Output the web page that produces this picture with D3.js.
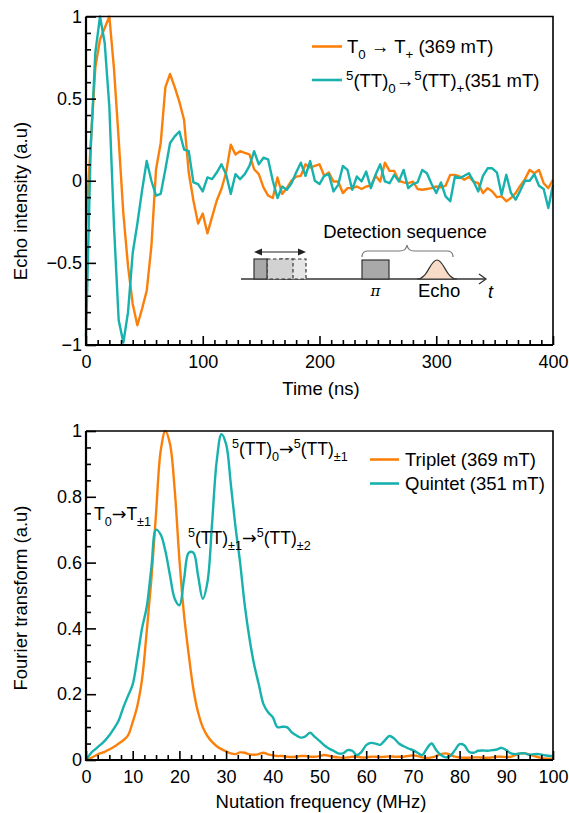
<!DOCTYPE html>
<html>
<head>
<meta charset="utf-8">
<script src="https://cdn.jsdelivr.net/npm/d3@7"></script>
<style>
  html, body { margin: 0; padding: 0; background: #fff; }
  svg { display: block; font-family: "Liberation Sans", Arial, Helvetica, sans-serif; }
</style>
</head>
<body>
<svg id="fig" width="569" height="813"></svg>
<script>
// ---- Echo detected nutation (time domain) ----
const timeNs = [0,4,8,12,16,20,24,28,32,36,40,44,48,52,56,60,64,68,72,76,80,84,88,92,96,100,
  104,108,112,116,120,124,128,132,136,140,144,148,152,156,160,164,168,172,176,180,184,188,192,196,200,
  204,208,212,216,220,224,228,232,236,240,244,248,252,256,260,264,268,272,276,280,284,288,292,296,300,
  304,308,312,316,320,324,328,332,336,340,344,348,352,356,360,364,368,372,376,380,384,388,392,396,400];

const tripletEcho = [-0.27,0.22,0.69,0.86,0.93,1.0,0.68,0.25,-0.2,-0.52,-0.75,-0.88,-0.78,-0.67,-0.4,0.07,0.23,0.57,0.65,0.57,0.48,0.37,0.05,-0.12,-0.26,-0.2,
  -0.32,-0.22,-0.12,-0.05,0.05,0.22,0.16,0.18,0.17,0.16,0.07,0.04,-0.04,-0.09,-0.105,0.02,-0.08,-0.045,0.0,0.025,0.03,0.1,0.08,0.09,0.1,
  0.03,0.05,-0.005,-0.005,-0.075,-0.045,-0.045,-0.035,-0.05,-0.035,-0.03,0.03,-0.005,0.11,0.06,0.06,0.0,-0.01,-0.015,-0.005,-0.05,-0.055,-0.05,-0.045,-0.035,
  -0.04,-0.03,0.036,0.036,0.026,0.006,0.025,-0.005,-0.015,-0.075,-0.045,-0.065,-0.1,-0.095,-0.125,-0.105,-0.075,-0.03,0.01,0.066,0.046,0.066,-0.015,-0.045,0.006];

const quintetEcho = [-0.95,0.19,0.78,1.0,0.84,0.45,-0.28,-0.85,-0.985,-0.8,-0.44,-0.26,-0.06,0.12,0.0,-0.09,-0.08,0.07,0.23,0.27,0.3,0.19,0.18,-0.01,-0.02,-0.065,
  0.02,0.01,0.05,0.1,0.04,-0.08,0.04,0.01,0.04,0.09,0.18,0.1,0.14,0.13,0.0,-0.105,-0.035,-0.055,-0.015,0.05,0.11,0.03,0.12,0.0,-0.02,
  0.03,0.04,-0.065,-0.025,0.09,0.066,-0.055,0.026,-0.004,0.056,-0.045,0.036,0.1,-0.004,-0.015,0.036,-0.004,0.066,-0.045,-0.02,-0.01,0.066,0.046,-0.02,-0.075,
  -0.01,-0.095,-0.125,0.026,0.016,0.03,0.046,-0.005,-0.065,0.03,0.076,0.076,0.05,-0.085,0.036,-0.075,-0.115,-0.06,0.0,0.0,0.04,-0.03,-0.05,-0.166,-0.025];

// ---- Fourier transform (frequency domain) ----
const freqMHz = [0,1,2,3,4,5,6,7,8,9,10,11,12,13,14,15,16,17,18,19,20,21,22,23,24,25,26,27,28,29,30,
  31,32,33,34,35,36,37,38,39,40,41,42,43,44,45,46,47,48,49,50,51,52,53,54,55,56,57,58,59,60,
  61,62,63,64,65,66,67,68,69,70,71,72,73,74,75,76,77,78,79,80,81,82,83,84,85,86,87,88,89,90,
  91,92,93,94,95,96,97,98,99,100];

const tripletFT = [0,0.006,0.013,0.02,0.025,0.032,0.04,0.05,0.06,0.075,0.115,0.165,0.245,0.39,0.55,0.75,0.94,1.0,0.96,0.82,0.61,0.44,0.32,0.215,0.145,0.1,0.073,0.055,0.042,0.033,0.026,
  0.02,0.018,0.023,0.022,0.017,0.016,0.018,0.022,0.017,0.014,0.012,0.012,0.01,0.009,0.01,0.012,0.012,0.01,0.01,0.012,
  0.015,0.013,0.01,0.008,0.007,0.008,0.01,0.01,0.008,0.008,0.01,0.01,0.009,0.01,0.011,0.01,0.01,0.01,0.012,0.014,
  0.012,0.008,0.006,0.008,0.012,0.018,0.02,0.016,0.01,0.008,0.007,0.007,0.008,0.008,0.007,0.007,0.008,0.01,0.01,0.009,
  0.01,0.015,0.02,0.02,0.016,0.012,0.008,0.005,0.004,0.004];

const quintetFT = [0,0.02,0.033,0.045,0.058,0.075,0.096,0.12,0.16,0.195,0.23,0.31,0.4,0.465,0.585,0.7,0.685,0.635,0.56,0.49,0.47,0.55,0.63,0.63,0.56,0.49,0.54,0.72,0.91,0.99,0.96,
  0.84,0.71,0.6,0.47,0.37,0.29,0.23,0.17,0.145,0.13,0.1,0.101,0.1,0.085,0.075,0.068,0.072,0.083,0.07,0.058,
  0.045,0.035,0.028,0.02,0.02,0.03,0.028,0.015,0.025,0.045,0.052,0.05,0.046,0.06,0.073,0.065,0.05,0.042,0.035,0.03,
  0.022,0.015,0.035,0.05,0.03,0.015,0.008,0.012,0.03,0.048,0.045,0.025,0.022,0.028,0.029,0.028,0.03,0.032,0.037,0.03,
  0.02,0.018,0.02,0.02,0.016,0.018,0.018,0.015,0.013,0.012];

const echoTicks = [0, 100, 200, 300, 400];
const echoYTicks = [-1, -0.5, 0, 0.5, 1];
const ftXTicks = [0,10,20,30,40,50,60,70,80,90,100];
const ftYTicks = [0, 0.2, 0.4, 0.6, 0.8, 1];

const ORANGE = "#fb800b";
const TEAL = "#17b2ad";
const FONT = 18;

const svg = d3.select("#fig");

// rich text helper: segments of [text, kind] where kind is "sub", "sup", "arrow" or ""
function richText(g, x, y, segs, size, anchor) {
  const t = g.append("text").attr("x", x).attr("y", y).attr("font-size", size)
    .attr("fill", "#000").attr("text-anchor", anchor || "start");
  let shift = 0;
  segs.forEach(([txt, kind]) => {
    let target = 0, fs = size;
    if (kind === "sub") { target = size * 0.32; fs = size * 0.72; }
    if (kind === "sup") { target = -size * 0.4; fs = size * 0.72; }
    const sp = t.append("tspan").attr("dy", target - shift).attr("font-size", fs).text(txt);
    if (kind === "arrow") sp.attr("font-family", "'DejaVu Sans', sans-serif");
    shift = target;
  });
  return t;
}

function frame(g, x, y, opts) {
  const { major, minor, xMajorLen, xMinorLen, yMajorLen, yMinorLen, xFmt, yFmt } = opts;
  const [x0, x1] = x.range();
  const [y0, y1] = y.range(); // y0 bottom, y1 top
  // minor ticks
  g.append("g").attr("transform", `translate(0,${y0})`)
    .call(d3.axisBottom(x).tickValues(minor.x).tickSize(-xMinorLen).tickSizeOuter(0).tickFormat(""))
    .call(s => s.select(".domain").remove())
    .call(s => s.selectAll("line").attr("stroke-width", 1.6));
  g.append("g").attr("transform", `translate(${x0},0)`)
    .call(d3.axisLeft(y).tickValues(minor.y).tickSize(-yMinorLen).tickSizeOuter(0).tickFormat(""))
    .call(s => s.select(".domain").remove())
    .call(s => s.selectAll("line").attr("stroke-width", 1.6));
  // major ticks and labels
  const xa = g.append("g").attr("transform", `translate(0,${y0})`)
    .call(d3.axisBottom(x).tickValues(major.x).tickSize(-xMajorLen).tickSizeOuter(0).tickPadding(10).tickFormat(xFmt));
  xa.select(".domain").remove();
  xa.selectAll("line").attr("stroke-width", 1.6);
  xa.selectAll("text").attr("font-size", FONT).attr("font-family", null).attr("fill", "#000");
  const ya = g.append("g").attr("transform", `translate(${x0},0)`)
    .call(d3.axisLeft(y).tickValues(major.y).tickSize(-yMajorLen).tickSizeOuter(0).tickPadding(4).tickFormat(yFmt));
  ya.select(".domain").remove();
  ya.selectAll("line").attr("stroke-width", 1.6);
  ya.selectAll("text").attr("font-size", FONT).attr("font-family", null).attr("fill", "#000");
  // box
  g.append("path").attr("fill", "none").attr("stroke", "#000").attr("stroke-width", 1.6)
    .attr("d", `M${x0},${y1}H${x1}V${y0}`);
  g.append("path").attr("fill", "none").attr("stroke", "#000").attr("stroke-width", 2.2)
    .attr("d", `M${x0},${y1}V${y0}H${x1}`);
}

const minusFmt = d => (d < 0 ? "\u2212" : "") + Math.abs(d);

// ================= Top panel =================
{
  const g = svg.append("g");
  const x = d3.scaleLinear().domain([0, 400]).range([86, 553]);
  const y = d3.scaleLinear().domain([-1, 1]).range([345, 16.5]);

  const line = d3.line().x((d, i) => x(timeNs[i])).y(d => y(d)).curve(d3.curveLinear);
  g.append("path").datum(tripletEcho).attr("d", line).attr("fill", "none")
    .attr("stroke", ORANGE).attr("stroke-width", 2.4).attr("stroke-linejoin", "round");
  g.append("path").datum(quintetEcho).attr("d", line).attr("fill", "none")
    .attr("stroke", TEAL).attr("stroke-width", 2.4).attr("stroke-linejoin", "round");

  frame(g, x, y, {
    major: { x: echoTicks, y: echoYTicks },
    minor: { x: d3.range(10, 400, 10).filter(v => v % 100), y: d3.range(-9, 10).filter(v => v % 5).map(v => v / 10) },
    xMajorLen: 9, xMinorLen: 5, yMajorLen: 10, yMinorLen: 5,
    xFmt: d3.format("d"), yFmt: minusFmt
  });

  g.append("text").attr("x", 321).attr("y", 395).attr("text-anchor", "middle")
    .attr("font-size", 18.5).text("Time (ns)");
  g.append("text").attr("transform", "translate(27,201) rotate(-90)").attr("text-anchor", "middle")
    .attr("font-size", 18.5).text("Echo intensity (a.u)");

  // legend
  const lg = g.append("g");
  lg.append("line").attr("x1", 312).attr("x2", 342).attr("y1", 46.5).attr("y2", 46.5)
    .attr("stroke", ORANGE).attr("stroke-width", 2.6);
  richText(lg, 347, 53, [["T", ""], ["0", "sub"], [" \u2192 T", ""], ["+", "sub"], [" (369 mT)", ""]], 18.5);
  lg.append("line").attr("x1", 312).attr("x2", 342).attr("y1", 80).attr("y2", 80)
    .attr("stroke", TEAL).attr("stroke-width", 2.6);
  richText(lg, 346, 87, [["5", "sup"], ["(TT)", ""], ["0", "sub"], ["\u2192", ""], ["5", "sup"], ["(TT)", ""], ["+", "sub"], ["(351 mT)", ""]], 18.5);

  // pulse sequence sketch
  const ins = g.append("g");
  ins.append("line").attr("x1", 241).attr("x2", 485).attr("y1", 279).attr("y2", 279)
    .attr("stroke", "#333").attr("stroke-width", 1.3);
  ins.append("path").attr("d", "M479,274L486,279L479,284").attr("fill", "none")
    .attr("stroke", "#333").attr("stroke-width", 1.3);
  ins.append("text").attr("x", 488).attr("y", 298).attr("font-size", 18)
    .attr("font-style", "italic").text("t");
  // shifting pulse
  ins.append("rect").attr("x", 280).attr("y", 259).attr("width", 26).attr("height", 20)
    .attr("fill", "#e6e6e6").attr("stroke", "#333").attr("stroke-width", 1.2).attr("stroke-dasharray", "3.5,2.5");
  ins.append("rect").attr("x", 267).attr("y", 259).attr("width", 26).attr("height", 20)
    .attr("fill", "#d2d2d2").attr("stroke", "#333").attr("stroke-width", 1.2).attr("stroke-dasharray", "3.5,2.5");
  ins.append("rect").attr("x", 254).attr("y", 259).attr("width", 13).attr("height", 20)
    .attr("fill", "#a9a9a9").attr("stroke", "#333").attr("stroke-width", 1.2);
  ins.append("line").attr("x1", 260).attr("x2", 300).attr("y1", 252).attr("y2", 252)
    .attr("stroke", "#222").attr("stroke-width", 1.2);
  ins.append("path").attr("d", "M254,252L262,248.5L262,255.5Z").attr("fill", "#222");
  ins.append("path").attr("d", "M306,252L298,248.5L298,255.5Z").attr("fill", "#222");
  // pi pulse
  ins.append("rect").attr("x", 362).attr("y", 260).attr("width", 27).attr("height", 19)
    .attr("fill", "#a9a9a9").attr("stroke", "#333").attr("stroke-width", 1.2);
  ins.append("text").attr("x", 375.5).attr("y", 296).attr("text-anchor", "middle")
    .attr("font-size", 15).attr("font-family", "'DejaVu Serif', serif").attr("font-style", "italic").text("\u03c0");
  // echo
  ins.append("path").attr("d", "M417,279C428,279 430,260 437,260C444,260 446,279 457,279Z")
    .attr("fill", "#f8dcc8").attr("stroke", "#333").attr("stroke-width", 1.2);
  ins.append("text").attr("x", 418).attr("y", 297).attr("font-size", 18.5).text("Echo");
  // brace
  ins.append("path").attr("d", "M362,257Q362,251 368,251L400,251Q406,251 407,245Q408,251 414,251L447,251Q453,251 453,257")
    .attr("fill", "none").attr("stroke", "#777").attr("stroke-width", 1.2);
  ins.append("text").attr("x", 405).attr("y", 238).attr("text-anchor", "middle")
    .attr("font-size", 18.5).text("Detection sequence");
}

// ================= Bottom panel =================
{
  const g = svg.append("g");
  const x = d3.scaleLinear().domain([0, 100]).range([86, 553]);
  const y = d3.scaleLinear().domain([0, 1]).range([760, 431]);

  const line = d3.line().x((d, i) => x(freqMHz[i])).y(d => y(d)).curve(d3.curveCatmullRom.alpha(0.5));
  g.append("path").datum(tripletFT).attr("d", line).attr("fill", "none")
    .attr("stroke", ORANGE).attr("stroke-width", 2.4).attr("stroke-linejoin", "round");
  g.append("path").datum(quintetFT).attr("d", line).attr("fill", "none")
    .attr("stroke", TEAL).attr("stroke-width", 2.4).attr("stroke-linejoin", "round");

  frame(g, x, y, {
    major: { x: ftXTicks, y: ftYTicks },
    minor: { x: d3.range(1, 40).map(v => v * 2.5).filter(v => v % 10), y: d3.range(1, 20).filter(v => v % 4).map(v => v / 20) },
    xMajorLen: 9, xMinorLen: 5, yMajorLen: 10, yMinorLen: 5,
    xFmt: d3.format("d"), yFmt: d => d === 0 ? "0" : d === 1 ? "1" : d3.format(".1f")(d)
  });

  g.append("text").attr("x", 321).attr("y", 808).attr("text-anchor", "middle")
    .attr("font-size", 18.5).text("Nutation frequency (MHz)");
  g.append("text").attr("transform", "translate(27,598) rotate(-90)").attr("text-anchor", "middle")
    .attr("font-size", 18.5).text("Fourier transform (a.u)");

  // legend
  g.append("line").attr("x1", 370).attr("x2", 399).attr("y1", 459.5).attr("y2", 459.5)
    .attr("stroke", ORANGE).attr("stroke-width", 2.6);
  g.append("text").attr("x", 405).attr("y", 466).attr("font-size", 18.5).text("Triplet (369 mT)");
  g.append("line").attr("x1", 370).attr("x2", 399).attr("y1", 483.5).attr("y2", 483.5)
    .attr("stroke", TEAL).attr("stroke-width", 2.6);
  g.append("text").attr("x", 405).attr("y", 490).attr("font-size", 18.5).text("Quintet (351 mT)");

  // transition labels
  richText(g, 94, 520, [["T", ""], ["0", "sub"], ["\u2192", "arrow"], ["T", ""], ["\u00b11", "sub"]], 17.5);
  richText(g, 188, 544, [["5", "sup"], ["(TT)", ""], ["\u00b11", "sub"], ["\u2192", "arrow"], ["5", "sup"], ["(TT)", ""], ["\u00b12", "sub"]], 17.5);
  richText(g, 232, 455, [["5", "sup"], ["(TT)", ""], ["0", "sub"], ["\u2192", "arrow"], ["5", "sup"], ["(TT)", ""], ["\u00b11", "sub"]], 17.5);
}
</script>
</body>
</html>
